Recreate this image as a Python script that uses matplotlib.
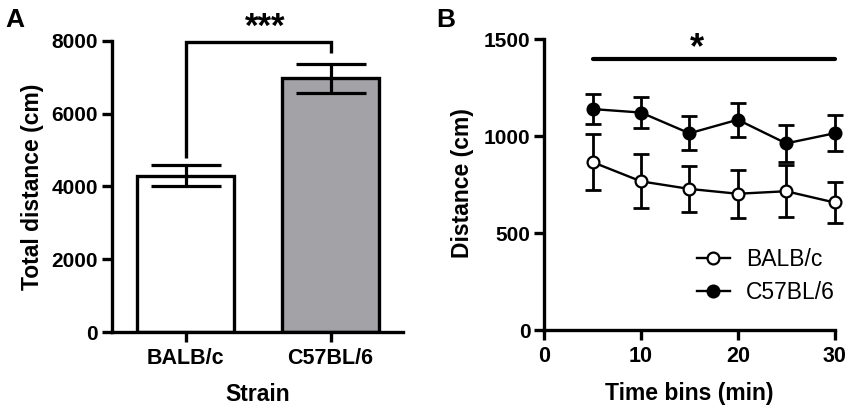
import numpy as np
import matplotlib
matplotlib.use('Agg')
import matplotlib.pyplot as plt

plt.rcParams['font.family'] = ['Liberation Sans', 'DejaVu Sans']

# panel A: total distance per strain
strains = ['BALB/c', 'C57BL/6']
total_mean = [4300, 6980]
total_sem = [290, 400]
bar_colors = ['white', '#a2a2a7']

# panel B: distance per 5 min time bin
time_bins = [5, 10, 15, 20, 25, 30]
balb_mean = [866, 767, 728, 703, 716, 658]
balb_sem = [144, 139, 118, 123, 135, 107]
c57_mean = [1140, 1122, 1015, 1085, 963, 1015]
c57_sem = [79, 80, 88, 88, 94, 93]

W, H = 850, 411
fig = plt.figure(figsize=(W/100, H/100), dpi=100)

def px_axes(x0, y0, x1, y1):
    # pixel box -> figure fraction
    return fig.add_axes([x0/W, 1-y1/H, (x1-x0)/W, (y1-y0)/H])

def style(ax):
    for s in ['top', 'right']:
        ax.spines[s].set_visible(False)
    for s in ['left', 'bottom']:
        ax.spines[s].set_linewidth(2.4)
    ax.tick_params(direction='out', length=7.5, width=2.4, labelsize=15, pad=2.5)
    for lab in ax.get_xticklabels() + ax.get_yticklabels():
        lab.set_fontweight('bold')

# ---- A ----
axA = px_axes(112, 41, 403, 332)
x = np.arange(len(strains))
axA.bar(x, total_mean, width=0.67, color=bar_colors, edgecolor='black', linewidth=2.4, zorder=2)
axA.errorbar(x, total_mean, yerr=total_sem, fmt='none', ecolor='black', elinewidth=2.3,
             capsize=25, capthick=2.3, zorder=3)
axA.set_xlim(-0.51, 1.5)
axA.set_ylim(0, 8000)
axA.set_yticks([0, 2000, 4000, 6000, 8000])
axA.set_xticks(x)
axA.set_xticklabels(strains)
style(axA)
axA.tick_params(axis='x', labelsize=15.5, pad=4)
# significance bracket
axA.plot([0, 0, 1, 1], [4780, 7970, 7970, 7670], color='black', lw=2.4, clip_on=False,
         solid_capstyle='butt', solid_joinstyle='miter', zorder=4)
axA.text(0.55, 8110, '***', ha='center', va='baseline', fontsize=25, fontweight='bold')

# ---- B ----
axB = px_axes(544.3, 39.3, 834.5, 330)
axB.errorbar(time_bins, balb_mean, yerr=balb_sem, fmt='none', ecolor='black', elinewidth=2,
             capsize=5.5, capthick=2, clip_on=False, zorder=2)
axB.errorbar(time_bins, c57_mean, yerr=c57_sem, fmt='none', ecolor='black', elinewidth=2,
             capsize=5.5, capthick=2, clip_on=False, zorder=2)
axB.plot(time_bins, balb_mean, '-o', color='black', lw=1.7, ms=8.5, mfc='white', mec='black',
         mew=1.6, clip_on=False, zorder=3, label='BALB/c')
axB.plot(time_bins, c57_mean, '-o', color='black', lw=1.7, ms=8.5, mfc='black', mec='black',
         mew=1.6, clip_on=False, zorder=3, label='C57BL/6')
axB.set_xlim(0, 30)
axB.set_ylim(0, 1500)
axB.set_xticks([0, 10, 20, 30])
axB.set_yticks([0, 500, 1000, 1500])
style(axB)
axB.tick_params(axis='x', labelsize=15.5, pad=4)
axB.plot([5, 30], [1400, 1400], color='black', lw=3, clip_on=False, solid_capstyle='round')
axB.text(15.8, 1402, '*', ha='center', va='baseline', fontsize=26, fontweight='bold')
axB.legend(loc='center left', bbox_to_anchor=(0.525, 0.186), frameon=False, fontsize=16.5,
           handlelength=1.45, handletextpad=0.7, labelspacing=0.45, borderpad=0, borderaxespad=0)

# axis labels and panel letters
fig.text(32.5/W, 1-187/H, 'Total distance (cm)', rotation=90, ha='center', va='center',
         fontsize=16.5, fontweight='bold')
fig.text(463/W, 1-183/H, 'Distance (cm)', rotation=90, ha='center', va='center',
         fontsize=16.5, fontweight='bold')
fig.text(258/W, 1-401/H, 'Strain', ha='center', va='baseline', fontsize=16.5, fontweight='bold')
fig.text(689/W, 1-400/H, 'Time bins (min)', ha='center', va='baseline', fontsize=16.5,
         fontweight='bold')
fig.text(5/W, 1-27/H, 'A', ha='left', va='baseline', fontsize=19, fontweight='bold')
fig.text(436/W, 1-27/H, 'B', ha='left', va='baseline', fontsize=19, fontweight='bold')

fig.savefig('out.png', dpi=100)
